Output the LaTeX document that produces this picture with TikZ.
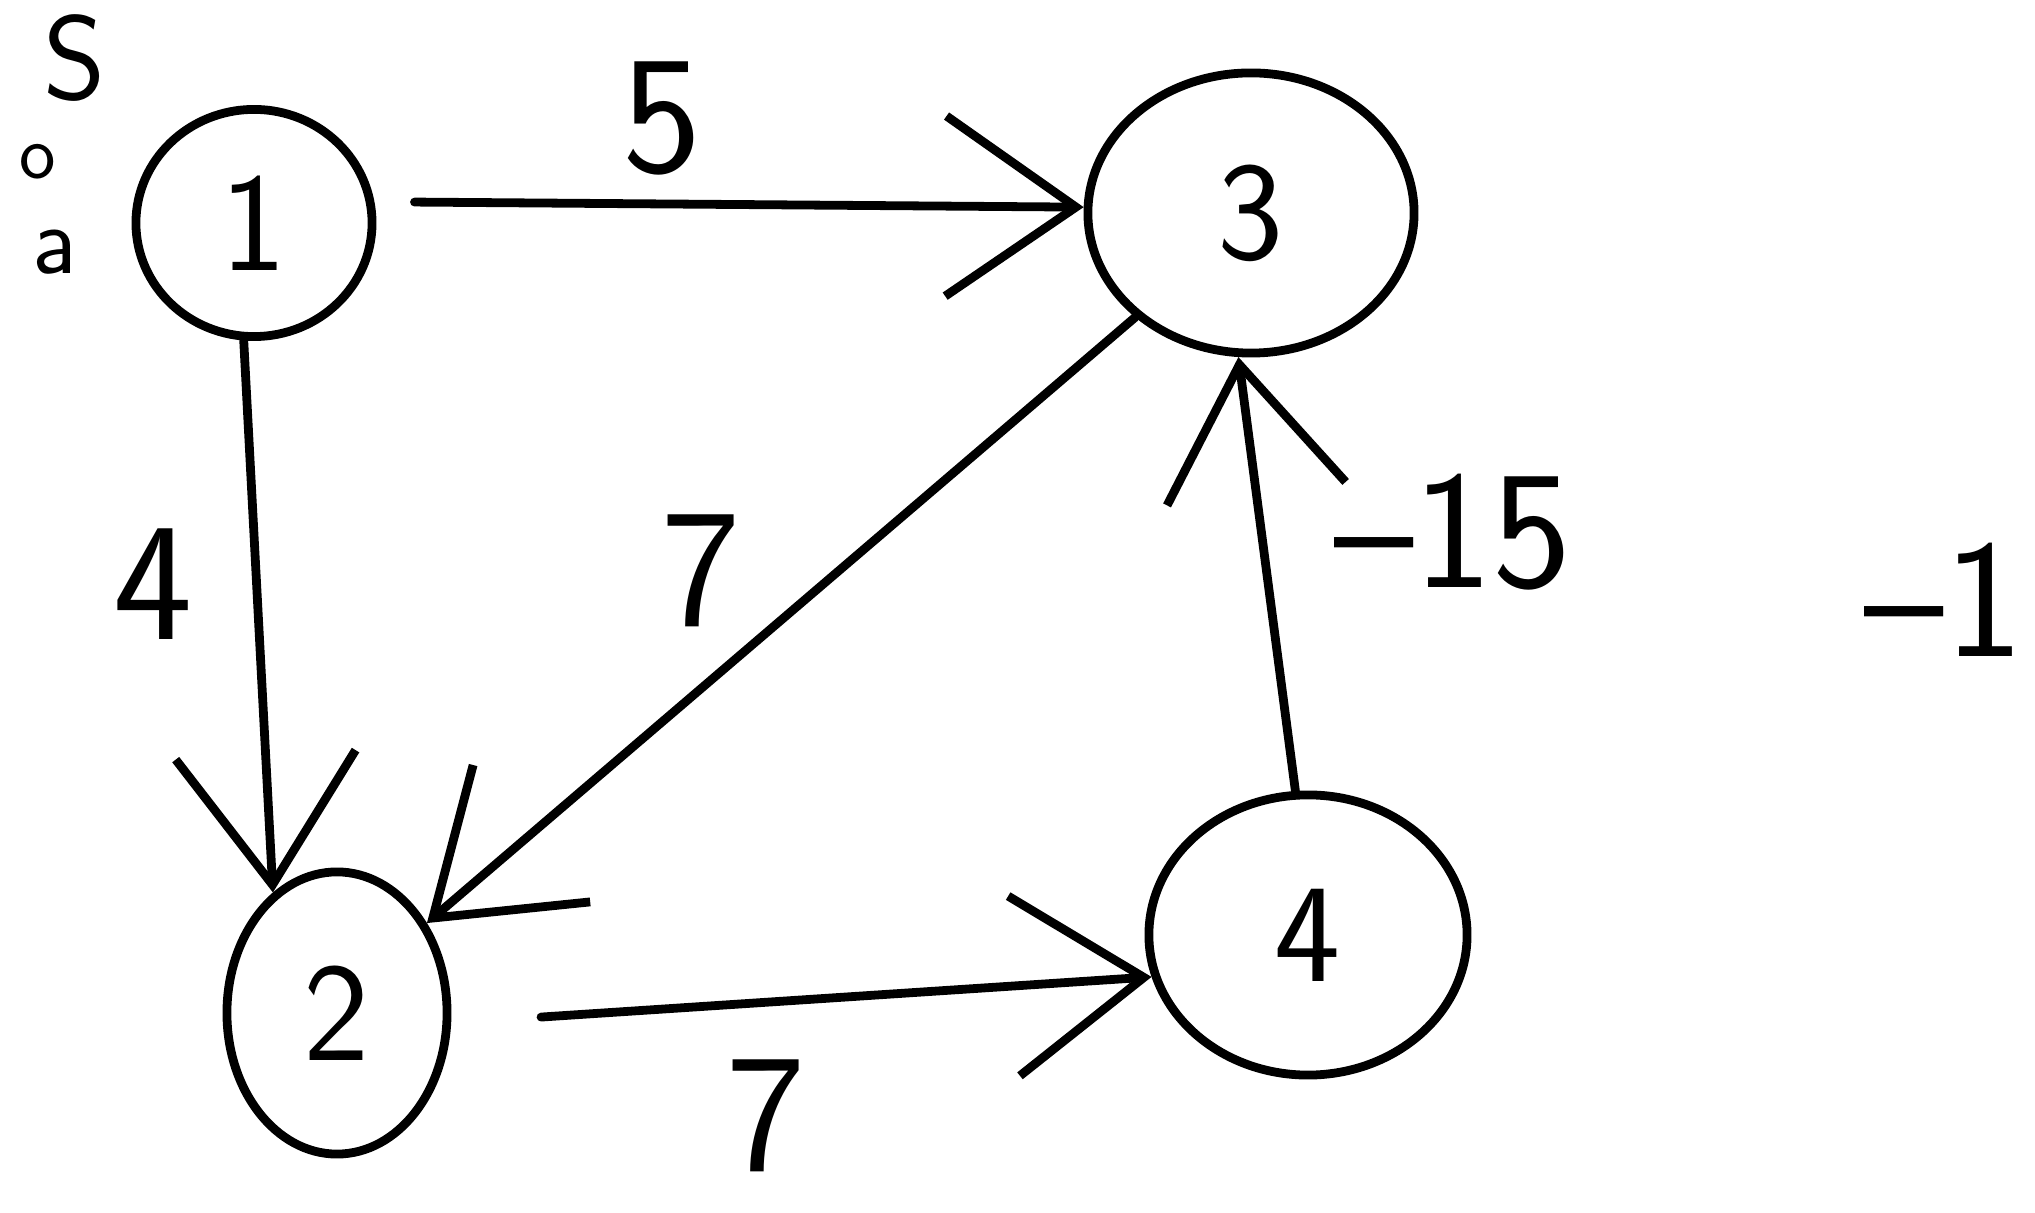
\documentclass[tikz,border=0pt]{standalone}
\usepackage{tikz}
\usetikzlibrary{arrows.meta, shapes.geometric}

\begin{document}
\begin{tikzpicture}[x=0.01cm, y=-0.01cm,
  line width=2.5pt, line cap=round, line join=round,
  vertex/.style={draw, ellipse, inner sep=0pt,
                 font=\fontsize{40}{48}\selectfont\sffamily},
  wlabel/.style={inner sep=0pt, font=\fontsize{48}{56}\selectfont\sffamily},
  note/.style={inner sep=0pt, font=\fontsize{34}{40}\selectfont\sffamily},
  edge/.style={-{Straight Barb[length=1.3cm, width=1.8cm, line width=2.5pt]}}]
\useasboundingbox (0,0) rectangle (2035,1213);

% vertices
\node[vertex, minimum width=2.36cm, minimum height=2.27cm] (v1) at (254,223) {1};
\node[vertex, minimum width=2.2cm, minimum height=2.82cm] (v2) at (337,1013) {2};
\node[vertex, minimum width=3.26cm, minimum height=2.8cm] (v3) at (1251,213) {3};
\node[vertex, minimum width=3.18cm, minimum height=2.8cm] (v4) at (1308,935) {4};

% weighted edges
\draw[edge, shorten <=0.4cm] (v1.10) -- (v3.178);
\node[wlabel] (w13) at (662,118) {5};
\draw[edge] (v1.265) -- (v2.118);
\node[wlabel] (w12) at (153,584) {4};
\draw[edge] (v3.222) -- (v2.45);
\node[wlabel] (w32) at (701,571) {7};
\draw[edge] (v4.95) -- (v3.265);
\node[wlabel] (w43) at (1453,532) {--15};
\draw[edge, shorten <=0.9cm] (v2.355) -- (v4.195);
\node[wlabel] (w24) at (766,1116) {7};

% stray writing at the edges
\node[wlabel, anchor=east] (cut) at (2028,600) {--1};
\node[note] (s) at (75,58) {S};
\node[note, font=\fontsize{22}{26}\selectfont\sffamily] (o) at (38,162) {o};
\node[note, font=\fontsize{28}{32}\selectfont\sffamily] (a) at (55,252) {a};
\end{tikzpicture}
\end{document}
